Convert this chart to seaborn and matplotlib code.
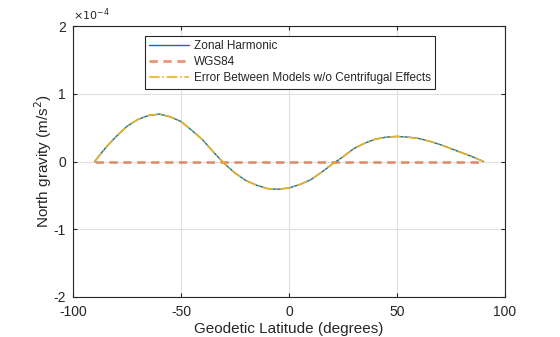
import numpy as np
import pandas as pd
import matplotlib
matplotlib.use("Agg")
import matplotlib.pyplot as plt
import seaborn as sns

# Data (north gravity, in units of 1e-4 m/s^2)
latitude = [-90, -85, -80, -75, -70, -65, -60, -55, -50, -45, -40, -35, -30,
            -25, -20, -15, -10, -5, 0, 5, 10, 15, 20, 25, 30, 35, 40, 45,
            50, 55, 60, 65, 70, 75, 80, 85, 90]
zonal_harmonic = [0.00, 0.20, 0.37, 0.52, 0.62, 0.68, 0.70, 0.66, 0.59, 0.46,
                  0.32, 0.14, -0.03, -0.17, -0.28, -0.35, -0.40, -0.41, -0.39,
                  -0.34, -0.27, -0.16, -0.04, 0.07, 0.19, 0.27, 0.33, 0.36,
                  0.37, 0.36, 0.34, 0.30, 0.25, 0.19, 0.13, 0.07, 0.00]
wgs84 = [0.0, 0.0, 0.0, 0.0, 0.0, 0.0, 0.0, 0.0, 0.0, 0.0, 0.0, 0.0, 0.0,
         0.0, 0.0, 0.0, 0.0, 0.0, 0.0, 0.0, 0.0, 0.0, 0.0, 0.0, 0.0, 0.0,
         0.0, 0.0, 0.0, 0.0, 0.0, 0.0, 0.0, 0.0, 0.0, 0.0, 0.0]
error_models = [0.00, 0.20, 0.37, 0.52, 0.62, 0.68, 0.70, 0.66, 0.59, 0.46,
                0.32, 0.14, -0.03, -0.17, -0.28, -0.35, -0.40, -0.41, -0.39,
                -0.34, -0.27, -0.16, -0.04, 0.07, 0.19, 0.27, 0.33, 0.36,
                0.37, 0.36, 0.34, 0.30, 0.25, 0.19, 0.13, 0.07, 0.00]
scale = 1e-4
x_ticks = [-100, -50, 0, 50, 100]
y_ticks = [-2, -1, 0, 1, 2]

sns.set_style("white")
plt.rcParams["font.family"] = ["Liberation Sans", "DejaVu Sans"]
plt.rcParams["axes.unicode_minus"] = False

df = pd.DataFrame({
    "lat": latitude,
    "zonal": np.array(zonal_harmonic) * scale,
    "wgs": np.array(wgs84) * scale,
    "err": np.array(error_models) * scale,
})

fig = plt.figure(figsize=(5.6, 3.37), dpi=100)
ax = fig.add_axes([0.1304, 0.1187, 0.7714, 0.8041])

sns.lineplot(data=df, x="lat", y="zonal", ax=ax, color="#0072BD", lw=1.0,
             label="Zonal Harmonic")
sns.lineplot(data=df, x="lat", y="wgs", ax=ax, color="#D95319", lw=2.0,
             linestyle=(0, (3, 2)), alpha=0.6, label="WGS84")
sns.lineplot(data=df, x="lat", y="err", ax=ax, color="#EDB120", lw=1.2,
             linestyle="-.", label="Error Between Models w/o Centrifugal Effects")

ax.set_xlim(-100, 100)
ax.set_ylim(-2 * scale, 2 * scale)
ax.set_xticks(x_ticks)
ax.set_xticklabels([str(t) for t in x_ticks])
ax.set_yticks([t * scale for t in y_ticks])
ax.set_yticklabels([str(t) for t in y_ticks])
ax.grid(True, color="#DFDFDF", lw=0.8)
ax.set_axisbelow(True)
for s in ax.spines.values():
    s.set_color("#262626")
    s.set_linewidth(0.8)
ax.tick_params(direction="in", length=3, width=0.8, colors="#262626",
               labelsize=10, top=True, right=True, bottom=True, left=True,
               labeltop=False, labelright=False)
ax.tick_params(axis="x", pad=6)
ax.tick_params(axis="y", pad=5)
ax.set_xlabel("Geodetic Latitude (degrees)", fontsize=11, color="#262626",
              labelpad=2)
ax.set_ylabel("North gravity (m/s$^2$)", fontsize=11, color="#262626",
              labelpad=0)
ax.text(0.0, 1.012, r"$\times10^{-4}$", transform=ax.transAxes, fontsize=8,
        ha="left", va="bottom", color="#262626")

leg = ax.legend(loc="upper left", bbox_to_anchor=(0.1667, 0.963),
                borderaxespad=0, fontsize=8.5, frameon=True, fancybox=False,
                framealpha=1, edgecolor="#262626", handlelength=3.4,
                borderpad=0.35, labelspacing=0.35, handletextpad=0.4)
leg.get_frame().set_linewidth(0.8)

fig.savefig("out.png", dpi=100, facecolor="white")
